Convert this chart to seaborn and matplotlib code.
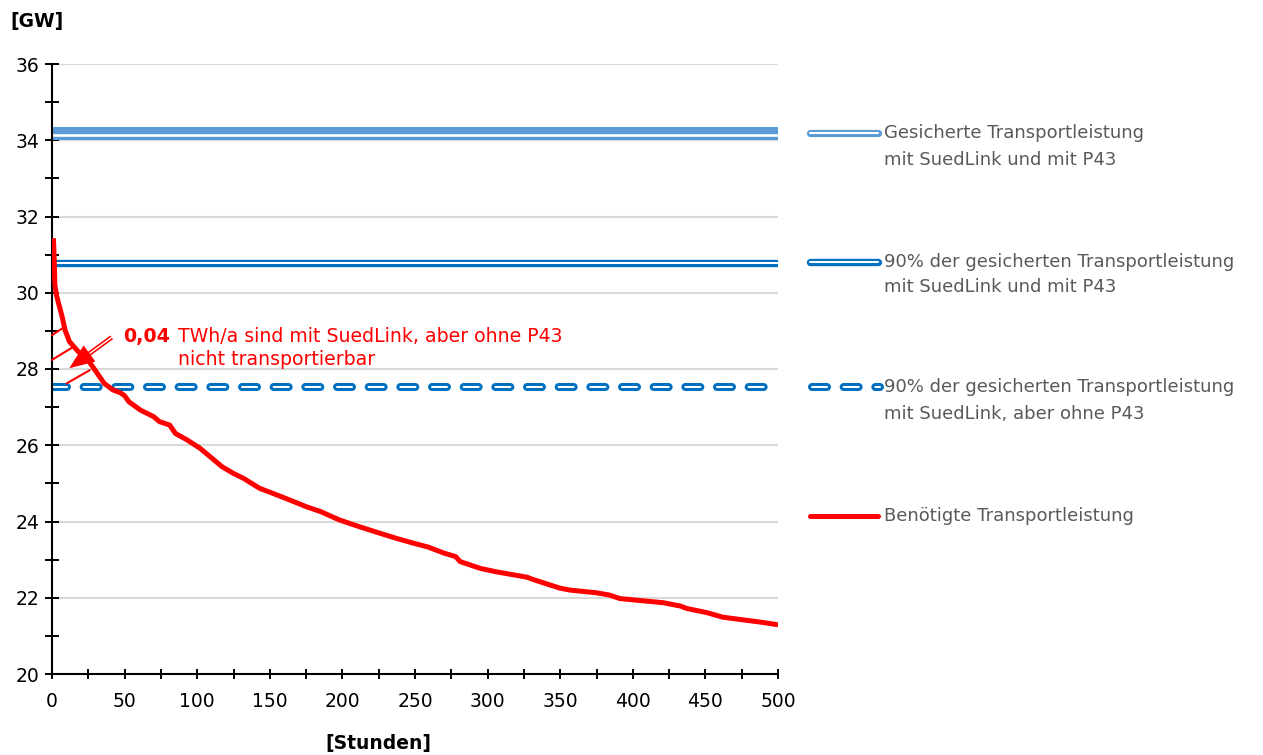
import matplotlib
matplotlib.use("Agg")
import matplotlib.pyplot as plt
import matplotlib.patheffects as pe
from matplotlib.lines import Line2D
from matplotlib.ticker import MultipleLocator
import numpy as np
import pandas as pd
import seaborn as sns

# ---- data -------------------------------------------------------------
hours = [1, 1.5, 2, 3, 4, 7, 9, 12, 18, 24, 28, 32, 36, 42, 47, 50, 53,
         61, 70, 74, 81, 85, 93, 102, 112, 117, 125, 132, 143, 152, 164,
         175, 185, 198, 212, 226, 237, 249, 259, 270, 278, 281, 295, 306,
         318, 327, 332, 350, 357, 375, 384, 391, 407, 421, 433, 437, 451,
         462, 476, 490, 500]
demand_gw = [31.43, 30.9, 30.2, 29.95, 29.8, 29.37, 29.02, 28.72, 28.46,
             28.28, 28.06, 27.84, 27.62, 27.45, 27.38, 27.3, 27.14, 26.92,
             26.75, 26.62, 26.53, 26.31, 26.14, 25.92, 25.6, 25.44, 25.26,
             25.13, 24.87, 24.74, 24.56, 24.39, 24.26, 24.04, 23.86, 23.69,
             23.56, 23.43, 23.33, 23.17, 23.08, 22.95, 22.77, 22.68, 22.6,
             22.54, 22.47, 22.25, 22.2, 22.13, 22.07, 21.98, 21.92, 21.87,
             21.78, 21.72, 21.61, 21.49, 21.42, 21.35, 21.29]

x_range = [0, 500]
secured_gw = 34.2                 # gesicherte Transportleistung mit SuedLink und P43
secured_90_gw = 30.78             # 90 % davon
secured_90_without_p43_gw = 27.54 # 90 % mit SuedLink, aber ohne P43

legend_labels = [
    ("Gesicherte Transportleistung", "mit SuedLink und mit P43"),
    ("90% der gesicherten Transportleistung", "mit SuedLink und mit P43"),
    ("90% der gesicherten Transportleistung", "mit SuedLink, aber ohne P43"),
    ("Benötigte Transportleistung", None),
]
note_value = "0,04"
note_lines = ["TWh/a sind mit SuedLink, aber ohne P43", "nicht transportierbar"]

# hatch strokes marking the energy above the 90 % line (hours, GW)
hatch_segments = [((0, 28.89), (9, 29.11)),
                  ((0, 28.24), (14.7, 28.58)),
                  ((10, 27.62), (26, 27.97))]
arrow_tail = (41.1, 28.83)
arrow_tip = (11.9, 28.02)

# ---- style ------------------------------------------------------------
sns.set_theme(style="white")
plt.rcParams["font.family"] = ["DejaVu Sans"]
plt.rcParams["lines.scale_dashes"] = False
plt.rcParams["text.color"] = "black"

LIGHT_BLUE = "#5b9bd5"
BLUE = "#0070c0"
RED = "#ff0000"
GREY_TXT = "#595959"

W, H = 1263, 755
fig = plt.figure(figsize=(W / 100, H / 100), dpi=100)
ax = fig.add_axes([52 / W, 1 - 674 / H, (778 - 52) / W, (674 - 64) / H])

def fx(px):
    return px / W

def fy(py):
    return 1 - py / H

# secured capacity: thick/thin double line
df1 = pd.DataFrame({"h": x_range, "gw": [secured_gw] * 2})
sns.lineplot(data=df1, x="h", y="gw", ax=ax, color=LIGHT_BLUE, lw=9.4,
             solid_capstyle="butt",
             path_effects=[pe.Normal(),
                           pe.Stroke(linewidth=1.9, foreground="white", offset=(0, -1.4))])

# 90 % line: double line
df2 = pd.DataFrame({"h": x_range, "gw": [secured_90_gw] * 2})
sns.lineplot(data=df2, x="h", y="gw", ax=ax, color=BLUE, lw=5.3,
             solid_capstyle="butt",
             path_effects=[pe.Normal(),
                           pe.Stroke(linewidth=1.45, foreground="white")])

# 90 % without P43: dashed outlined line
dash_pattern = (0, (10.8, 12.0))
df3 = pd.DataFrame({"h": x_range, "gw": [secured_90_without_p43_gw] * 2})
sns.lineplot(data=df3, x="h", y="gw", ax=ax, color="white", lw=1.45,
             linestyle=dash_pattern, dash_capstyle="round",
             path_effects=[pe.Stroke(linewidth=5.8, foreground=BLUE), pe.Normal()])

# required transport capacity (duration curve)
dfd = pd.DataFrame({"h": hours, "gw": demand_gw})
sns.lineplot(data=dfd, x="h", y="gw", ax=ax, color=RED, lw=3.6,
             solid_capstyle="butt", solid_joinstyle="round", zorder=5)

# annotation: hatch strokes and double-line arrow
for (x0, y0), (x1, y1) in hatch_segments:
    ax.plot([x0, x1], [y0, y1], color=RED, lw=1.5, zorder=6, clip_on=False)

shaft_end = (arrow_tip[0] + 0.35 * (arrow_tail[0] - arrow_tip[0]),
             arrow_tip[1] + 0.35 * (arrow_tail[1] - arrow_tip[1]))
ax.plot([arrow_tail[0], shaft_end[0]], [arrow_tail[1], shaft_end[1]],
        color="white", lw=1.0, zorder=6, solid_capstyle="butt",
        path_effects=[pe.Stroke(linewidth=3.3, foreground=RED), pe.Normal()])
ax.annotate("", xy=arrow_tip, xytext=arrow_tail,
            arrowprops=dict(arrowstyle="-|>,head_length=1.0,head_width=0.4",
                            mutation_scale=18, color=RED, lw=0,
                            shrinkA=0, shrinkB=0), zorder=7)

ax.text(48.9, 28.72, note_value, color=RED, fontsize=13.7, fontweight="bold",
        va="baseline", ha="left", zorder=8)
ax.text(86.8, 28.72, note_lines[0], color=RED, fontsize=13.6,
        va="baseline", ha="left", zorder=8)
ax.text(86.8, 28.10, note_lines[1], color=RED, fontsize=13.6,
        va="baseline", ha="left", zorder=8)

# ---- axes -------------------------------------------------------------
ax.set_xlim(0, 500)
ax.set_ylim(20, 36)
ax.set_xlabel("")
ax.set_ylabel("")
ax.xaxis.set_major_locator(MultipleLocator(50))
ax.xaxis.set_minor_locator(MultipleLocator(25))
ax.yaxis.set_major_locator(MultipleLocator(2))
ax.yaxis.set_minor_locator(MultipleLocator(1))
ax.grid(False)
ax.yaxis.grid(True, which="major", color="#d9d9d9", lw=1.5)
ax.set_axisbelow(True)
for s in ["top", "right"]:
    ax.spines[s].set_visible(False)
for s in ["left", "bottom"]:
    ax.spines[s].set_color("black")
    ax.spines[s].set_linewidth(1.5)
    ax.spines[s].set_zorder(4)
ax.tick_params(axis="y", which="both", direction="inout", length=10, width=1.4,
               color="black", labelsize=13.5, pad=4, left=True, labelcolor="black")
ax.tick_params(axis="x", which="both", direction="inout", length=7.5, width=1.4,
               color="black", labelsize=13.5, pad=9, bottom=True, labelcolor="black")
ax.tick_params(which="minor", labelleft=False, labelbottom=False)

fig.text(fx(10), fy(21), "[GW]", fontsize=13.5, fontweight="bold", va="center",
         ha="left", color="black")
fig.text(fx(378), fy(744), "[Stunden]", fontsize=13.5, fontweight="bold",
         va="center", ha="center", color="black")

# ---- legend (right side) ----------------------------------------------
hx0, hx1 = fx(810), fx(878)
tx = fx(884)
rows = [133, 262, 387, 516]
second = [160, 287, 414, None]

fig.add_artist(Line2D([hx0, hx1], [fy(rows[0])] * 2, transform=fig.transFigure,
                      color="white", lw=1.5, solid_capstyle="round",
                      path_effects=[pe.Stroke(linewidth=5.2, foreground=LIGHT_BLUE), pe.Normal()]))
fig.add_artist(Line2D([hx0, hx1], [fy(rows[1])] * 2, transform=fig.transFigure,
                      color="white", lw=1.5, solid_capstyle="round",
                      path_effects=[pe.Stroke(linewidth=5.3, foreground=BLUE), pe.Normal()]))
fig.add_artist(Line2D([fx(812), fx(880)], [fy(rows[2])] * 2, transform=fig.transFigure,
                      color="white", lw=1.45, linestyle=dash_pattern, dash_capstyle="round",
                      path_effects=[pe.Stroke(linewidth=5.8, foreground=BLUE), pe.Normal()]))
fig.add_artist(Line2D([hx0, hx1], [fy(rows[3])] * 2, transform=fig.transFigure,
                      color=RED, lw=3.6, solid_capstyle="round"))

for (l1, l2), r1, r2 in zip(legend_labels, rows, second):
    fig.text(tx, fy(r1), l1, fontsize=13, color=GREY_TXT, va="center", ha="left")
    if l2:
        fig.text(tx, fy(r2), l2, fontsize=13, color=GREY_TXT, va="center", ha="left")

fig.savefig("out.png", dpi=100)
